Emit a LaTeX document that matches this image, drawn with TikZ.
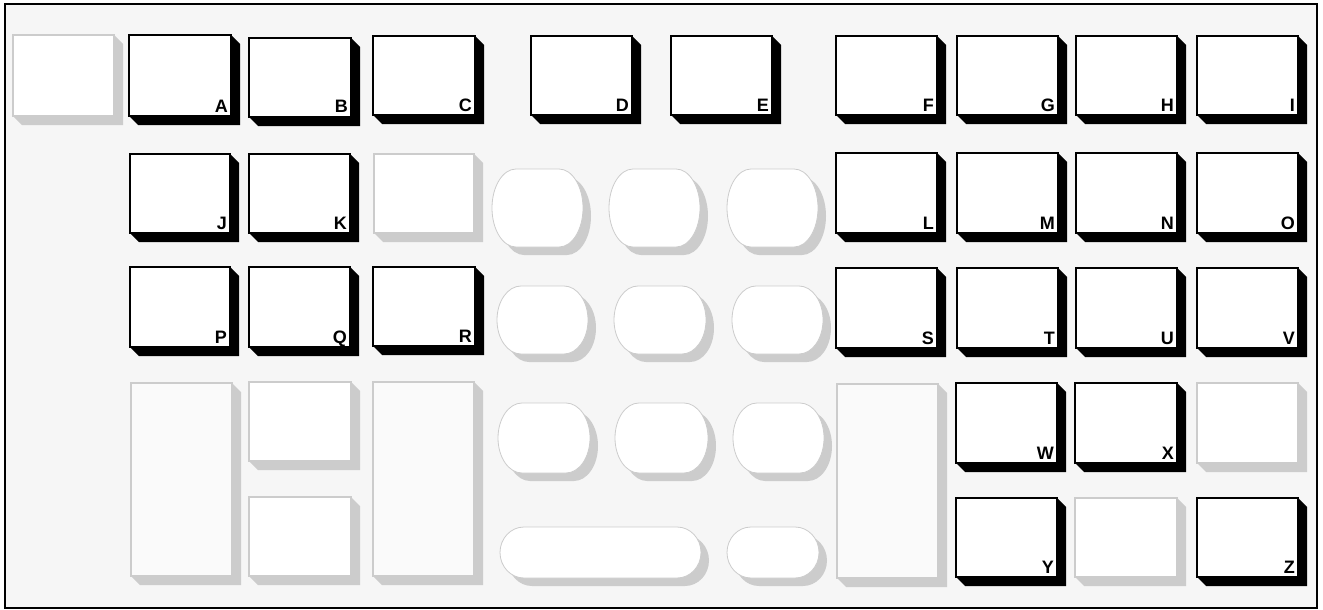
\documentclass[tikz,border=0pt]{standalone}
\usepackage{fontspec}
\setmainfont{Liberation Sans}
\usetikzlibrary{calc}
\definecolor{bgcol}{HTML}{F6F6F6}
\definecolor{shcol}{HTML}{CCCCCC}
\definecolor{tallfill}{HTML}{FAFAFA}
\tikzset{
  keybox/.style={rectangle, draw=black, line width=2pt, fill=white, inner sep=0pt, outer sep=0pt, anchor=north west},
  ghostbox/.style={rectangle, draw=shcol, line width=2pt, fill=white, inner sep=0pt, outer sep=0pt, anchor=north west},
  keylabel/.style={font=\fontsize{18}{18}\selectfont\bfseries, inner sep=0pt, anchor=base east},
  keyshadow/.style={fill=black},
  ghostshadow/.style={fill=shcol},
  ovalline/.style={draw=shcol, line width=0.8pt, fill=white},
  ovalshadow/.style={fill=shcol},
  ovalanchor/.style={rectangle, inner sep=0pt, outer sep=0pt, anchor=north west},
  frame/.style={draw=black, line width=2pt, fill=bgcol}
}
% black key with label
\newcommand\kbkey[6]{%
  \fill[keyshadow] (#4,#3) -- (#4+9,#3+9) -- (#4+9,#5+9) -- (#2+9,#5+9) -- (#2,#5) -- cycle;
  \pgfmathsetmacro\kw{#4-#2}\pgfmathsetmacro\kh{#5-#3}%
  \node[keybox, minimum width=\kw pt, minimum height=\kh pt] (#1) at (#2,#3) {};
  \node[keylabel] (#1-l) at ($(#1.south east)+(-3,-4)$) {#6};
}
% grey blank key
\newcommand\ghostkey[6]{%
  \fill[ghostshadow] (#4,#3) -- (#4+9,#3+9) -- (#4+9,#5+9) -- (#2+9,#5+9) -- (#2,#5) -- cycle;
  \pgfmathsetmacro\kw{#4-#2}\pgfmathsetmacro\kh{#5-#3}%
  \node[ghostbox, fill=#6, minimum width=\kw pt, minimum height=\kh pt] (#1) at (#2,#3) {};
}
% oval key
\newcommand\ovshape[4]{(#1+24,#2) -- (#3-24,#2)
  arc[start angle=90,end angle=0,x radius=24pt,y radius=\ry pt] -- (#3,#4-\ry)
  arc[start angle=0,end angle=-90,x radius=24pt,y radius=\ry pt] -- (#1+24,#4)
  arc[start angle=-90,end angle=-180,x radius=24pt,y radius=\ry pt] -- (#1,#2+\ry)
  arc[start angle=180,end angle=90,x radius=24pt,y radius=\ry pt] -- cycle}
\newcommand\ovalkey[5]{%
  \pgfmathsetmacro\ry{(#5-#3)/2}%
  \pgfmathsetmacro\kw{#4-#2}\pgfmathsetmacro\kh{#5-#3}%
  \fill[ovalshadow, shift={(8,8)}] \ovshape{#2}{#3}{#4}{#5};
  \path[ovalline] \ovshape{#2}{#3}{#4}{#5};
  \node[ovalanchor, minimum width=\kw pt, minimum height=\kh pt] (#1) at (#2,#3) {};
}
\begin{document}
\begin{tikzpicture}[x=1pt,y=-1pt]
\useasboundingbox (0,0) rectangle (1323,610);
\fill[white] (0,0) rectangle (1323,610);
\path[frame] (4.5,4.5) rectangle (1316.5,607.5);

% row 1
\ghostkey{g0}{13}{35}{114}{116}{white}
\kbkey{A}{129}{35}{231}{116}{A}
\kbkey{B}{249}{38}{351}{117}{B}
\kbkey{C}{373}{36}{475}{115}{C}
\kbkey{D}{531}{36}{632}{115}{D}
\kbkey{E}{671}{36}{772}{115}{E}
\kbkey{F}{836}{36}{937}{115}{F}
\kbkey{G}{957}{36}{1058}{115}{G}
\kbkey{H}{1076}{36}{1177}{115}{H}
\kbkey{I}{1197}{36}{1298}{115}{I}

% row 2
\kbkey{J}{130}{154}{230}{233}{J}
\kbkey{K}{249}{154}{350}{233}{K}
\ghostkey{g1}{374}{154}{474}{233}{white}
\ovalkey{o1}{492}{169}{583}{247}
\ovalkey{o2}{609}{169}{700}{247}
\ovalkey{o3}{727}{169}{818}{247}
\kbkey{L}{836}{153}{937}{233}{L}
\kbkey{M}{957}{153}{1058}{233}{M}
\kbkey{N}{1076}{153}{1177}{233}{N}
\kbkey{O}{1197}{153}{1298}{233}{O}

% row 3
\kbkey{P}{130}{267}{230}{347}{P}
\kbkey{Q}{249}{267}{350}{347}{Q}
\kbkey{R}{373}{267}{475}{346}{R}
\ovalkey{o4}{497}{286}{588}{354}
\ovalkey{o5}{614}{286}{706}{354}
\ovalkey{o6}{732}{286}{823}{354}
\kbkey{S}{836}{268}{937}{348}{S}
\kbkey{T}{957}{268}{1058}{348}{T}
\kbkey{U}{1076}{268}{1177}{348}{U}
\kbkey{V}{1197}{268}{1298}{348}{V}

% rows 4-5
\ghostkey{g2}{131}{383}{232}{576}{tallfill}
\ghostkey{g3}{249}{382}{351}{461}{white}
\ghostkey{g4}{249}{497}{351}{576}{white}
\ghostkey{g5}{373}{382}{474}{576}{tallfill}
\ovalkey{o7}{498}{403}{590}{473}
\ovalkey{o8}{615}{403}{708}{473}
\ovalkey{o9}{733}{403}{824}{473}
\ovalkey{o10}{500}{527}{701}{578}
\ovalkey{o11}{727}{527}{819}{578}
\ghostkey{g6}{837}{384}{938}{578}{tallfill}
\kbkey{W}{956}{383}{1057}{463}{W}
\kbkey{X}{1075}{383}{1177}{463}{X}
\ghostkey{g7}{1197}{383}{1298}{463}{white}
\kbkey{Y}{956}{498}{1057}{577}{Y}
\ghostkey{g8}{1075}{498}{1177}{577}{white}
\kbkey{Z}{1197}{498}{1298}{577}{Z}
\end{tikzpicture}
\end{document}
